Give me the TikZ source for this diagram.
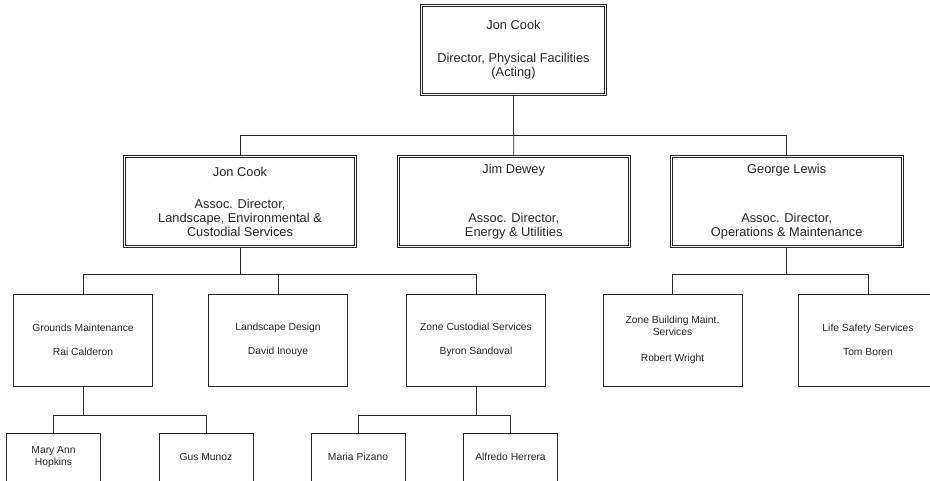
\documentclass[tikz,border=0pt]{standalone}
\usepackage{fontspec}
\setmainfont{Liberation Sans}
\begin{document}
\begin{tikzpicture}[x=1pt,y=-1pt,color=black!85,
			headbox/.style={draw,double,double distance=1.4pt,line width=.75pt,align=center,inner sep=0pt,font=\fontsize{12.8}{14}\selectfont},
			assocbox/.style={headbox,minimum width=231pt,minimum height=90pt},
			unitbox/.style={draw,line width=.75pt,align=center,inner sep=0pt,minimum width=139pt,minimum height=92pt,font=\fontsize{10.3}{11.5}\selectfont},
			staffbox/.style={unitbox,minimum width=94pt,minimum height=48pt},
			link/.style={line width=.75pt}]
			\useasboundingbox (0,0) rectangle (930,480);
			\clip (0,0) rectangle (930,480);
			% director
			\node[headbox,minimum width=184pt,minimum height=89pt] (dir) at (513.5,50) {Jon Cook\\[19pt]Director, Physical Facilities\\(Acting)};
			% associate directors
			\node[assocbox] (lecs) at (240,201.5) {Jon Cook\\[18pt]Assoc. Director,\\Landscape, Environmental \&\\Custodial Services};
			\node[assocbox] (eu) at (513.7,201.5) {Jim Dewey\\[35pt]Assoc. Director,\\Energy \& Utilities};
			\node[assocbox] (om) at (786.7,201.5) {George Lewis\\[35pt]Assoc. Director,\\Operations \& Maintenance};
			% units
			\node[unitbox] (grounds) at (83,340) {Grounds Maintenance\\[12.5pt]Rai Calderon};
			\node[unitbox] (design) at (278,340) {Landscape Design\\[12.5pt]David Inouye};
			\node[unitbox] (custodial) at (476,340) {Zone Custodial Services\\[12.5pt]Byron Sandoval};
			\node[unitbox] (bldg) at (672.5,340) {Zone Building Maint.\\Services\\[14.5pt]Robert Wright};
			\node[unitbox] (safety) at (868,340) {Life Safety Services\\[12.5pt]Tom Boren};
			% staff
			\node[staffbox] (hopkins) at (53.5,457) {Mary Ann\\Hopkins};
			\node[staffbox] (munoz) at (206,457) {Gus Munoz};
			\node[staffbox] (pizano) at (358,457) {Maria Pizano};
			\node[staffbox] (herrera) at (510.5,457) {Alfredo Herrera};
			% connectors
			\draw[link] (dir.south) -- (eu.north);
			\draw[link] (dir.south) -- ++(0,40) -| (lecs.north);
			\draw[link] (dir.south) -- ++(0,40) -| (om.north);
			\draw[link] (lecs.south) -- ++(0,27.5) -| (grounds.north);
			\draw[link] (lecs.south) -- ++(0,27.5) -| (design.north);
			\draw[link] (lecs.south) -- ++(0,27.5) -| (custodial.north);
			\draw[link] (om.south) -- ++(0,27.5) -| (bldg.north);
			\draw[link] (om.south) -- ++(0,27.5) -| (safety.north);
			\draw[link] (grounds.south) -- ++(0,29) -| (hopkins.north);
			\draw[link] (grounds.south) -- ++(0,29) -| (munoz.north);
			\draw[link] (custodial.south) -- ++(0,29) -| (pizano.north);
			\draw[link] (custodial.south) -- ++(0,29) -| (herrera.north);
		\end{tikzpicture}
\end{document}
